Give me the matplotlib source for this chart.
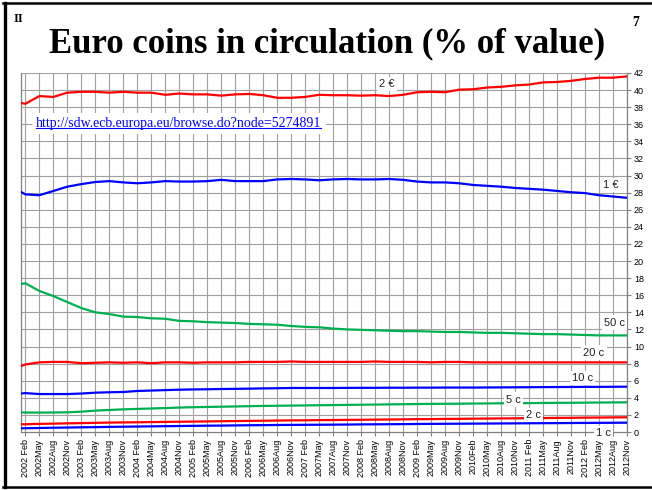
import matplotlib
matplotlib.use("Agg")
import matplotlib.pyplot as plt
from matplotlib.lines import Line2D

# ---- data (month index 0 = 2002 Jan; points at Jan 2002 and every quarter label) ----
month_idx = [0] + [1 + 3 * k for k in range(44)]
years = list(range(2002, 2013))
tick_labels = []
for y in years:
    for mname in ["Feb", "May", "Aug", "Nov"]:
        if mname == "Feb" and y != 2010:
            tick_labels.append(f"{y} Feb")
        else:
            tick_labels.append(f"{y}{mname}")
tick_idx = [1 + 3 * k for k in range(44)]

eur2 = [38.5, 38.4, 39.3, 39.2, 39.7, 39.8, 39.8, 39.7, 39.8, 39.7, 39.7, 39.45, 39.6, 39.5,
        39.5, 39.35, 39.5, 39.55, 39.4, 39.1, 39.1, 39.2, 39.45, 39.4, 39.4, 39.35, 39.4, 39.3,
        39.45, 39.75, 39.8, 39.75, 40.05, 40.1, 40.3, 40.38, 40.55, 40.65, 40.9, 40.95, 41.08,
        41.3, 41.45, 41.45, 41.6]
eur1 = [28.1, 27.8, 27.7, 28.2, 28.7, 29.0, 29.25, 29.35, 29.2, 29.1, 29.2, 29.35, 29.3, 29.3,
        29.35, 29.5, 29.35, 29.35, 29.35, 29.55, 29.6, 29.55, 29.45, 29.55, 29.6, 29.55, 29.55,
        29.6, 29.5, 29.3, 29.2, 29.2, 29.1, 28.9, 28.8, 28.7, 28.55, 28.45, 28.35, 28.2, 28.05,
        27.95, 27.7, 27.55, 27.4]
c50 = [17.3, 17.4, 16.5, 15.9, 15.2, 14.5, 14.0, 13.8, 13.5, 13.45, 13.3, 13.25, 13.0, 12.95,
       12.85, 12.8, 12.75, 12.65, 12.6, 12.55, 12.4, 12.3, 12.25, 12.1, 12.0, 11.95, 11.9, 11.85,
       11.8, 11.8, 11.75, 11.7, 11.7, 11.65, 11.6, 11.6, 11.55, 11.5, 11.45, 11.45, 11.4, 11.35,
       11.3, 11.3, 11.3]
c20 = [7.7, 7.9, 8.15, 8.2, 8.2, 8.05, 8.1, 8.15, 8.1, 8.15, 8.05, 8.15, 8.15, 8.1, 8.15,
       8.15, 8.15, 8.2, 8.2, 8.2, 8.25, 8.2, 8.2, 8.2, 8.2, 8.2, 8.25, 8.2, 8.2, 8.2, 8.15,
       8.2, 8.2, 8.15, 8.15, 8.15, 8.15, 8.15, 8.15, 8.15, 8.15, 8.15, 8.15, 8.15, 8.15]
c10 = [4.5, 4.55, 4.44, 4.44, 4.44, 4.5, 4.6, 4.65, 4.68, 4.8, 4.85, 4.9, 4.95, 4.98, 5.0,
       5.03, 5.05, 5.07, 5.1, 5.12, 5.15, 5.15, 5.15, 5.15, 5.16, 5.17, 5.17, 5.18, 5.18, 5.19,
       5.19, 5.2, 5.2, 5.2, 5.21, 5.22, 5.23, 5.24, 5.25, 5.26, 5.27, 5.28, 5.28, 5.29, 5.3]
c5 = [2.3, 2.28, 2.27, 2.28, 2.3, 2.38, 2.5, 2.58, 2.65, 2.7, 2.75, 2.8, 2.86, 2.9, 2.93,
      2.96, 2.99, 3.02, 3.05, 3.07, 3.09, 3.11, 3.13, 3.15, 3.17, 3.19, 3.21, 3.23, 3.25, 3.27,
      3.29, 3.3, 3.31, 3.33, 3.34, 3.36, 3.37, 3.38, 3.4, 3.41, 3.42, 3.43, 3.45, 3.46, 3.47]
c2 = [0.9, 0.91, 0.95, 0.98, 1.01, 1.04, 1.07, 1.1, 1.12, 1.14, 1.16, 1.18, 1.2, 1.22, 1.24,
      1.26, 1.28, 1.3, 1.32, 1.34, 1.36, 1.37, 1.39, 1.4, 1.42, 1.43, 1.45, 1.46, 1.48, 1.5,
      1.51, 1.53, 1.54, 1.56, 1.57, 1.59, 1.6, 1.62, 1.63, 1.65, 1.66, 1.68, 1.69, 1.71, 1.72]
c1 = [0.43, 0.44, 0.47, 0.5, 0.52, 0.55, 0.57, 0.6, 0.62, 0.64, 0.66, 0.68, 0.7, 0.72, 0.74,
      0.75, 0.77, 0.79, 0.8, 0.82, 0.83, 0.84, 0.85, 0.86, 0.87, 0.89, 0.9, 0.91, 0.92, 0.94,
      0.95, 0.96, 0.97, 0.98, 0.99, 1.0, 1.01, 1.02, 1.03, 1.04, 1.05, 1.06, 1.07, 1.08, 1.09]

series_names = ["2 \u20ac", "1 \u20ac", "50 c", "20 c", "10 c", "5 c", "2 c", "1 c"]
series_vals = [eur2, eur1, c50, c20, c10, c5, c2, c1]
RED, BLUE, GREEN = "#FF0000", "#0000FF", "#00B050"
series_cols = [RED, BLUE, GREEN, RED, BLUE, GREEN, RED, BLUE]
label_pos = [(78.5, 40.7), (126.5, 28.9), (127.4, 12.8), (122.9, 9.3),
             (120.4, 6.3), (105.6, 3.8), (109.9, 1.95), (124.9, -0.15)]

url = "http://sdw.ecb.europa.eu/browse.do?node=5274891"

# ---- figure ----
fig = plt.figure(figsize=(6.52, 4.90), dpi=100)
fig.patch.set_facecolor("white")

# slide frame
fig.add_artist(Line2D([4.5 / 652, 4.5 / 652], [1 - 487 / 490, 1 - 3 / 490], transform=fig.transFigure,
                      color="black", lw=2.4))
fig.add_artist(Line2D([3 / 652, 1.0], [1 - 3 / 490, 1 - 3 / 490], transform=fig.transFigure,
                      color="black", lw=1.8))
fig.add_artist(Line2D([3 / 652, 1.0], [1 - 487 / 490, 1 - 487 / 490], transform=fig.transFigure,
                      color="black", lw=1.8))

fig.text(327 / 652, 1 - 44 / 490, "Euro coins in circulation (% of value)", ha="center", va="center",
         fontsize=25, fontweight="bold", family="Liberation Serif")
fig.text(18 / 652, 1 - 19 / 490, "II", ha="center", va="center", fontsize=9, fontweight="bold",
         family="Liberation Serif")
fig.text(636 / 652, 1 - 22 / 490, "7", ha="center", va="center", fontsize=10, fontweight="bold",
         family="Liberation Serif")

ax = fig.add_axes([20.7 / 652, 1 - 432 / 490, (627 - 20.7) / 652, (432 - 73) / 490])
ax.set_xlim(0, 130)
ax.set_ylim(0, 42)

grid_c = "#A0A0A0"
for t in tick_idx:
    ax.axvline(t, color=grid_c, lw=0.8, zorder=1)
for v in range(2, 43, 2):
    ax.axhline(v, color=grid_c, lw=0.8, zorder=1)

for vals, col in zip(series_vals, series_cols):
    ax.plot(month_idx, vals, color=col, lw=1.6, zorder=3, solid_joinstyle="round")

for name, (lx, ly) in zip(series_names, label_pos):
    ax.text(lx, ly, name, ha="center", va="center", fontsize=8, family="Liberation Sans",
            color="#222222", zorder=4, clip_on=False,
            bbox=dict(facecolor="white", edgecolor="none", pad=1.5))

url_txt = ax.text(3.3, 36.1, url, ha="left", va="center", fontsize=10, family="Liberation Serif",
                  color="#0000FF", zorder=5,
                  bbox=dict(facecolor="white", edgecolor="none", pad=3))

for side in ["left", "bottom", "right"]:
    ax.spines[side].set_color("#808080")
    ax.spines[side].set_linewidth(0.9)
ax.spines["top"].set_visible(False)

ax.yaxis.tick_right()
ax.set_yticks(range(0, 43, 2))
ax.set_yticklabels([str(v) for v in range(0, 43, 2)], fontsize=6.5, family="Liberation Sans")
ax.tick_params(axis="y", direction="out", length=3, width=0.8, color="#808080", pad=2)
ax.set_xticks(tick_idx)
ax.set_xticklabels(tick_labels, rotation=90, fontsize=6.5, family="Liberation Sans")
ax.tick_params(axis="x", direction="out", length=3, width=0.8, color="#808080", pad=2)

# underline for URL
fig.canvas.draw()
r = fig.canvas.get_renderer()
bb = url_txt.get_window_extent(renderer=r)
inv = fig.transFigure.inverted()
(x0, y0) = inv.transform((bb.x0, bb.y0 + 2))
(x1, _) = inv.transform((bb.x1, bb.y0 + 2))
fig.add_artist(Line2D([x0, x1], [y0, y0], transform=fig.transFigure, color="#0000FF", lw=0.8, zorder=6))

fig.savefig("out.png", dpi=100)
